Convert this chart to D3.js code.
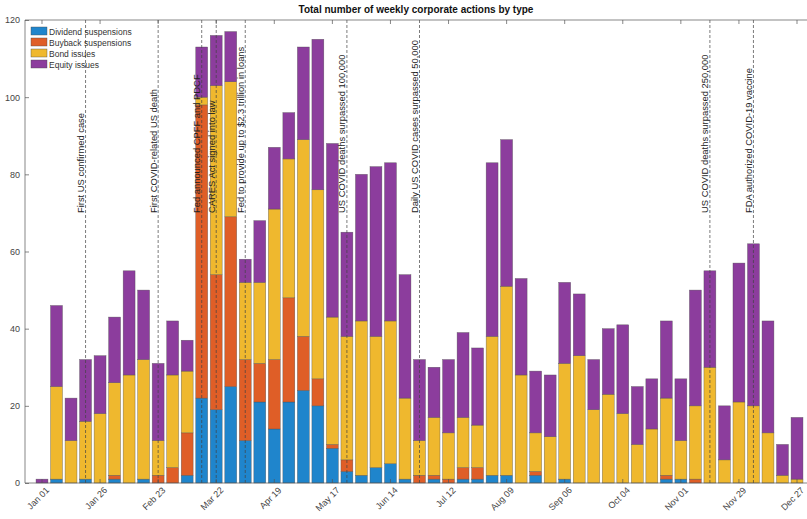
<!DOCTYPE html>
<html>
<head>
<meta charset="utf-8">
<script src="https://cdn.jsdelivr.net/npm/d3@7"></script>
<style>
  body { margin: 0; background: #fff; }
  svg { display: block; font-family: "Liberation Sans", Arial, Helvetica, sans-serif; }
</style>
</head>
<body>
<svg id="chart" width="807" height="519"></svg>
<script>
// Week starting dates of 2020 (first entry is the partial week from Jan 01)
const weeks = [
  "Jan 01","Jan 05","Jan 12","Jan 19","Jan 26","Feb 02","Feb 09","Feb 16","Feb 23",
  "Mar 01","Mar 08","Mar 15","Mar 22","Mar 29","Apr 05","Apr 12","Apr 19","Apr 26",
  "May 03","May 10","May 17","May 24","May 31","Jun 07","Jun 14","Jun 21","Jun 28",
  "Jul 05","Jul 12","Jul 19","Jul 26","Aug 02","Aug 09","Aug 16","Aug 23","Aug 30",
  "Sep 06","Sep 13","Sep 20","Sep 27","Oct 04","Oct 11","Oct 18","Oct 25","Nov 01",
  "Nov 08","Nov 15","Nov 22","Nov 29","Dec 06","Dec 13","Dec 20","Dec 27"
];

// Weekly counts per action type
const dividendSuspensions = [
  0,1,0,1,0,1,0,1,0,0,2,22,19,25,11,21,14,21,24,20,9,3,2,4,5,1,0,
  1,0,1,1,2,2,0,2,0,1,0,0,0,0,0,0,1,1,0,0,0,0,0,0,0,0
];
const buybackSuspensions = [
  0,0,0,0,0,1,0,0,2,4,11,76,35,44,21,10,18,27,14,7,1,3,0,0,0,0,2,
  1,1,3,3,0,0,0,1,0,0,0,0,0,0,0,0,1,0,1,0,0,0,0,0,0,0
];
const bondIssues = [
  0,24,11,15,18,24,28,31,9,24,16,2,49,35,20,21,39,36,51,49,33,32,40,34,37,21,9,
  15,12,13,11,36,49,28,10,12,30,33,19,23,18,10,14,20,10,19,30,6,21,20,13,2,1
];
const equityIssues = [
  1,21,11,16,15,17,27,18,20,14,8,13,13,13,6,16,16,12,24,39,45,27,38,44,41,32,21,
  13,19,22,20,45,38,25,16,16,21,16,13,17,23,15,13,20,16,30,25,14,36,42,29,8,16
];

const seriesNames = ["Dividend suspensions","Buyback suspensions","Bond issues","Equity issues"];
const seriesColors = ["#1f85cc","#df5e27","#efb82e","#8c3d9d"];

const tickWeeks = ["Jan 01","Jan 26","Feb 23","Mar 22","Apr 19","May 17","Jun 14",
                   "Jul 12","Aug 09","Sep 06","Oct 04","Nov 01","Nov 29","Dec 27"];
const yTicks = [0,20,40,60,80,100,120];

// Dated events marked with dashed vertical lines
const eventWeeks = ["Jan 19","Feb 23","Mar 15","Mar 22","Apr 05","May 24","Jun 28","Nov 15","Dec 06"];
const eventLabels = [
  "First US confirmed case",
  "First COVID-related US death",
  "Fed announced CPFF and PDCF",
  "CARES Act signed into law",
  "Fed to provide up to $2.3 trillion in loans",
  "US COVID deaths surpassed 100,000",
  "Daily US COVID cases surpassed 50,000",
  "US COVID deaths surpassed 250,000",
  "FDA authorized COVID-19 vaccine"
];

const rows = weeks.map((w, i) => ({
  week: w,
  [seriesNames[0]]: dividendSuspensions[i],
  [seriesNames[1]]: buybackSuspensions[i],
  [seriesNames[2]]: bondIssues[i],
  [seriesNames[3]]: equityIssues[i]
}));

const svg = d3.select("#chart");
const frame = { left: 25, right: 814, top: 20, bottom: 483 };

const step = (frame.right - frame.left) / 54.34;
const firstCenter = frame.left + 1.17 * step;
const x = d3.scaleBand()
  .domain(weeks)
  .range([firstCenter - step / 2, firstCenter - step / 2 + step * weeks.length])
  .paddingInner(0.18)
  .paddingOuter(0.09);
const cx = w => x(w) + x.bandwidth() / 2;

const y = d3.scaleLinear().domain([0, 120]).range([frame.bottom, frame.top]);
const color = d3.scaleOrdinal().domain(seriesNames).range(seriesColors);

const stacked = d3.stack().keys(seriesNames)(rows);

// Stacked bars
svg.append("g")
  .selectAll("g")
  .data(stacked)
  .join("g")
    .attr("fill", d => color(d.key))
  .selectAll("rect")
  .data(d => d.filter(s => s[1] > s[0]))
  .join("rect")
    .attr("x", d => x(d.data.week))
    .attr("width", x.bandwidth())
    .attr("y", d => y(d[1]))
    .attr("height", d => y(d[0]) - y(d[1]))
    .attr("stroke", "#4a4a4a")
    .attr("stroke-width", 0.5)
    .attr("stroke-opacity", 0.7);

// Event markers
const ev = svg.append("g");
eventWeeks.forEach((w, i) => {
  const ex = cx(w);
  ev.append("line")
    .attr("x1", ex).attr("x2", ex)
    .attr("y1", frame.top).attr("y2", frame.bottom)
    .attr("stroke", "#444").attr("stroke-width", 0.7)
    .attr("stroke-dasharray", "3,2");
  ev.append("text")
    .attr("transform", `translate(${ex - 1.5},213) rotate(-90)`)
    .attr("font-size", 9.4)
    .attr("fill", "#222")
    .text(eventLabels[i]);
});

// Axes frame
const axisColor = "#555";
svg.append("path")
  .attr("d", `M${frame.left},${frame.top}H${frame.right}M${frame.left},${frame.top}V${frame.bottom}H${frame.right}`)
  .attr("fill", "none").attr("stroke", axisColor).attr("stroke-width", 0.7);

const yAxis = d3.axisLeft(y).tickValues(yTicks).tickSize(-4).tickPadding(5);
svg.append("g")
  .attr("transform", `translate(${frame.left},0)`)
  .call(yAxis)
  .call(g => g.select(".domain").remove())
  .call(g => g.selectAll("line").attr("stroke", axisColor).attr("stroke-width", 0.7))
  .call(g => g.selectAll("text").attr("font-size", 9).attr("fill", "#444")
    .attr("font-family", "Liberation Sans, Arial, sans-serif"));

const xAxis = d3.axisBottom(x).tickValues(tickWeeks).tickSize(-4).tickPadding(4);
svg.append("g")
  .attr("transform", `translate(0,${frame.bottom})`)
  .call(xAxis)
  .call(g => g.select(".domain").remove())
  .call(g => g.selectAll("line").attr("stroke", axisColor).attr("stroke-width", 0.7))
  .call(g => g.selectAll("text")
    .attr("font-size", 9).attr("fill", "#444")
    .attr("font-family", "Liberation Sans, Arial, sans-serif")
    .attr("text-anchor", "end")
    .attr("dy", null)
    .attr("transform", "translate(5,5) rotate(-45)"));

// Mirrored ticks along the top edge
svg.append("g")
  .selectAll("line")
  .data(tickWeeks)
  .join("line")
    .attr("x1", d => cx(d)).attr("x2", d => cx(d))
    .attr("y1", frame.top).attr("y2", frame.top + 4)
    .attr("stroke", axisColor).attr("stroke-width", 0.7);

// Title
svg.append("text")
  .attr("x", 416).attr("y", 13)
  .attr("text-anchor", "middle")
  .attr("font-size", 10).attr("font-weight", "bold")
  .attr("fill", "#111")
  .text("Total number of weekly corporate actions by type");

// Legend
const legend = svg.append("g").attr("transform", "translate(31,27)");
seriesNames.forEach((name, i) => {
  const g = legend.append("g").attr("transform", `translate(0,${i * 11})`);
  g.append("rect").attr("width", 16).attr("height", 8)
    .attr("fill", seriesColors[i]).attr("stroke", "#4a4a4a").attr("stroke-width", 0.4);
  g.append("text").attr("x", 18).attr("y", 7.5)
    .attr("font-size", 8.5).attr("fill", "#333").text(name);
});
</script>
</body>
</html>
